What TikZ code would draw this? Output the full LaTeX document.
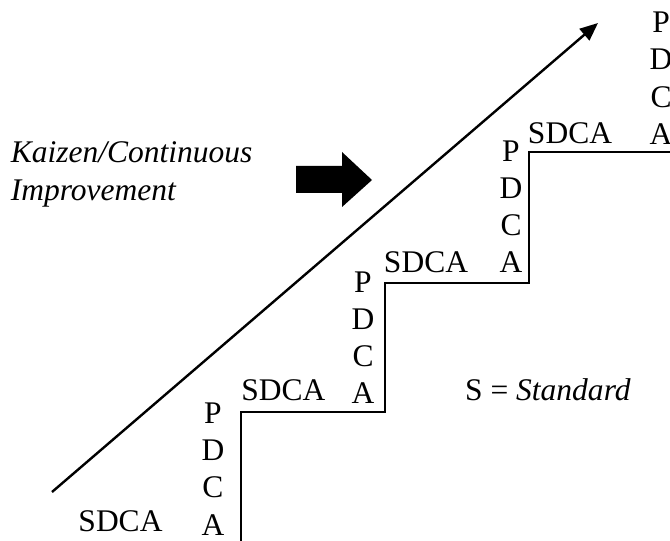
\documentclass[tikz,border=0pt]{standalone}
\usepackage{fontspec}
\setmainfont{Liberation Serif}
\usetikzlibrary{arrows.meta}
\begin{document}
\begin{tikzpicture}[x=1bp,y=-1bp,
  stair/.style={line width=2bp,line join=miter},
  trend/.style={line width=2.4bp,-{Triangle[length=18bp,width=15bp]}},
  lbl/.style={inner sep=0pt,font=\fontsize{31.5bp}{37.2bp}\selectfont},
  column/.style={lbl,align=center,anchor=north},
  cycle/.style={lbl,anchor=base}]
\useasboundingbox (0,0) rectangle (670,541);

% staircase of standards
\coordinate (s0) at (241,541);
\coordinate (s1) at (241,412);
\coordinate (s2) at (385,412);
\coordinate (s3) at (385,283);
\coordinate (s4) at (529,283);
\coordinate (s5) at (529,152.5);
\coordinate (s6) at (670,152.5);
\draw[stair] (s0) -- (s1) -- (s2) -- (s3) -- (s4) -- (s5) -- (s6);

% SDCA on every landing
\node[cycle] (sdca0) at (120.5,531) {SDCA};
\node[cycle] (sdca1) at (283.3,400.5) {SDCA};
\node[cycle] (sdca2) at (426,272.5) {SDCA};
\node[cycle] (sdca3) at (570,144) {SDCA};

% PDCA along every riser
\node[column] (pdca1) at (213,402.6) {P\\D\\C\\A};
\node[column] (pdca2) at (363,271.4) {P\\D\\C\\A};
\node[column] (pdca3) at (511,140.3) {P\\D\\C\\A};
\node[column] (pdca4) at (661,11.9) {P\\D\\C\\A};

% improvement trend
\coordinate (tstart) at (52,492);
\coordinate (tend) at (598,23);
\draw[trend] (tstart) -- (tend);

% caption and block arrow
\node[lbl,align=left,anchor=north west,font=\fontsize{31.5bp}{38bp}\selectfont\itshape]
  (kaizen) at (10.7,141.5) {Kaizen/Continuous\\Improvement};
\fill (296,166) -- (342,166) -- (342,152) -- (372,180) -- (342,207)
  -- (342,193) -- (296,193) -- cycle;

% legend
\node[lbl,anchor=base west] (std) at (465,400.4) {S = \textit{Standard}};
\end{tikzpicture}
\end{document}
